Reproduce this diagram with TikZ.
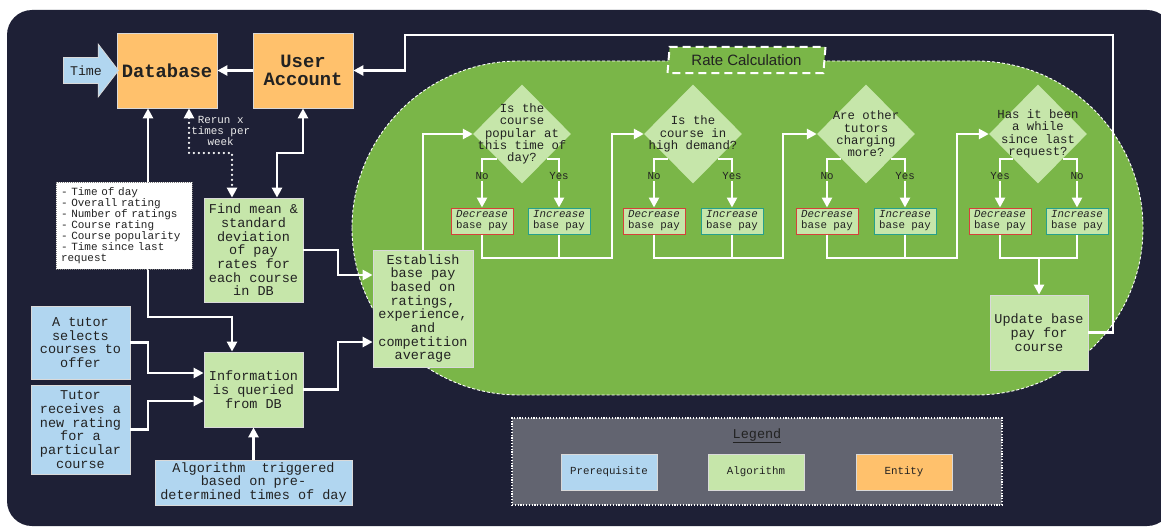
\documentclass[tikz,border=0pt]{standalone}
\usepackage{fontspec}
\setmainfont{Liberation Sans}
\setsansfont{Liberation Sans}
\setmonofont{Liberation Mono}
\usepackage{tikz}
\usetikzlibrary{shapes.geometric, shapes.arrows, arrows.meta}
\definecolor{nightblue}{RGB}{30, 32, 54}
\definecolor{zonegreen}{RGB}{122, 182, 72}
\definecolor{algogreen}{RGB}{198, 230, 170}
\definecolor{prereqblue}{RGB}{177, 214, 240}
\definecolor{entityorange}{RGB}{255, 193, 108}
\definecolor{legendgrey}{RGB}{98, 100, 112}
\definecolor{decred}{RGB}{214, 64, 58}
\definecolor{incteal}{RGB}{38, 160, 140}
\definecolor{inkdark}{RGB}{34, 34, 34}

\begin{document}
\begin{tikzpicture}[
    x=1pt, y=-1pt,
    box/.style={draw=white!85!black, line width=0.8pt, align=center, inner sep=1pt, text=inkdark,
        font=\ttfamily\fontsize{13.5}{13.7}\selectfont},
    algo/.style={box, fill=algogreen},
    prereq/.style={box, fill=prereqblue},
    entity/.style={box, fill=entityorange, minimum width=100pt, minimum height=75pt,
        font=\ttfamily\bfseries\fontsize{18.8}{18}\selectfont},
    choice/.style={diamond, fill=algogreen, minimum width=98pt, minimum height=99pt, inner sep=0pt},
    choicetext/.style={align=center, text=inkdark, inner sep=0pt,
        font=\ttfamily\fontsize{12.3}{12.4}\selectfont},
    paybox/.style={box, fill=algogreen, line width=1pt, minimum width=62pt, minimum height=26pt,
        font=\ttfamily\fontsize{10.8}{11}\selectfont},
    decbox/.style={paybox, draw=decred},
    incbox/.style={paybox, draw=incteal},
    answer/.style={fill=zonegreen, inner sep=1pt, text=inkdark,
        font=\ttfamily\fontsize{10.8}{11}\selectfont},
    keybox/.style={box, minimum width=96pt, minimum height=36pt,
        font=\ttfamily\fontsize{10.8}{11}\selectfont},
    wire/.style={draw=white, line width=2.5pt},
    flow/.style={wire, -{Triangle[length=10pt, width=10pt]}},
    biflow/.style={wire, {Triangle[length=10pt, width=10pt]}-{Triangle[length=10pt, width=10pt]}},
]

    % canvas
    \useasboundingbox (0,0) rectangle (1161,527);
    \fill[white] (0,0) rectangle (1161,527);
    \fill[nightblue, rounded corners=25pt] (7,10) rectangle (1172,526);

    % rate calculation zone
    \draw[fill=zonegreen, draw=white, line width=0.9pt, dash pattern=on 3pt off 2pt,
        rounded corners=167pt] (352,61) rectangle (1143,395);
    \node[trapezium, trapezium left angle=79, trapezium right angle=101, trapezium stretches body,
        fill=zonegreen, draw=white, line width=2pt, dash pattern=on 8pt off 5pt,
        minimum width=158pt, minimum height=26pt, inner sep=0pt, text=inkdark,
        font=\sffamily\fontsize{15}{15}\selectfont] (ratecalc) at (746.5,60) {Rate Calculation};

    % legend
    \node[fill=legendgrey, draw=white, line width=1.2pt, dash pattern=on 1.2pt off 1.6pt,
        minimum width=490pt, minimum height=87pt] (legendbox) at (757,461.5) {};
    \node[text=inkdark, font=\ttfamily\fontsize{13.5}{13.5}\selectfont] (legendtitle) at (757,436) {\underline{Legend}};
    \node[keybox, fill=prereqblue] (keyprereq) at (609,472) {Prerequisite};
    \node[keybox, fill=algogreen] (keyalgo) at (756,472) {Algorithm};
    \node[keybox, fill=entityorange] (keyentity) at (904,472) {Entity};

    % entities
    \node[entity] (db) at (167,70.5) {Database};
    \node[entity] (account) at (303,70.5) {User\\Account};
    \node[single arrow, fill=prereqblue, draw=white!85!black, line width=0.8pt,
        single arrow head extend=13.5pt, single arrow tip angle=105,
        minimum height=55pt, text height=9pt, text depth=0pt, inner ysep=8pt, inner xsep=2pt,
        text=inkdark, font=\ttfamily\fontsize{13.3}{13.3}\selectfont] (time) at (86,70.5) {Time};

    % prerequisites
    \node[prereq, minimum width=99pt, minimum height=73pt] (select) at (80.5,342.5) {A tutor\\selects\\courses to\\offer};
    \node[prereq, minimum width=99pt, minimum height=89pt] (receive) at (80.5,429.5) {Tutor\\receives a\\new rating\\for a\\particular\\course};
    \node[prereq, minimum width=197pt, minimum height=45pt] (trigger) at (253.5,482.5) {Algorithm\ \ triggered\\based on pre-\\determined times of day};

    % algorithm steps
    \node[algo, minimum width=99pt, minimum height=104pt] (stats) at (253.5,250) {Find mean \&\\standard\\deviation\\of pay\\rates for\\each course\\in DB};
    \node[algo, minimum width=99pt, minimum height=75pt] (query) at (253.5,389.5) {Information\\is queried\\from DB};
    \node[algo, minimum width=100pt, minimum height=117pt] (establish) at (423,308.5) {Establish\\base pay\\based on\\ratings,\\experience,\\and\\competition\\average};
    \node[algo, minimum width=98pt, minimum height=75pt] (update) at (1039,332.5) {Update base\\pay for\\course};

    % decisions
    \node[choice, label={[choicetext]center:{Is the\\course\\popular at\\this time of\\day?}}] (popular) at (522,134) {};
    \node[choice, label={[choicetext]center:{Is the\\course in\\high demand?}}] (demand) at (693,134) {};
    \node[choice, label={[choicetext]center:{Are other\\tutors\\charging\\more?}}] (others) at (866,134) {};
    \node[choice, label={[choicetext]center:{Has it been\\a while\\since last\\request?}}] (recent) at (1038,134) {};

    % pay adjustments
    \node[decbox] (popdec) at (482,221) {\textit{Decrease}\\base pay};
    \node[incbox] (popinc) at (559,221) {\textit{Increase}\\base pay};
    \node[decbox] (demdec) at (654,221) {\textit{Decrease}\\base pay};
    \node[incbox] (deminc) at (732,221) {\textit{Increase}\\base pay};
    \node[decbox] (othdec) at (827,221) {\textit{Decrease}\\base pay};
    \node[incbox] (othinc) at (905,221) {\textit{Increase}\\base pay};
    \node[decbox] (recdec) at (1000,221) {\textit{Decrease}\\base pay};
    \node[incbox] (recinc) at (1077,221) {\textit{Increase}\\base pay};

    % connectors
    \draw[flow] (account) -- (db);
    \draw[flow] (update.east) -- (1113,332.5) -- (1113,35) -- (405,35) |- (account.east);
    \draw[biflow] ([xshift=-19pt]db.south) -- (148,317) -| ([xshift=-21.5pt]query.north);
    \draw[biflow, dash pattern=on 0pt off 5pt, line cap=round] ([xshift=22pt]db.south)
        -- node[anchor=west, xshift=0pt, inner sep=1pt, align=center, text=white!92!black,
            font=\ttfamily\fontsize{10.9}{11}\selectfont] {Rerun x\\times per\\week} (189,153)
        -| ([xshift=-21.5pt]stats.north);
    \draw[biflow] (account.south) -- (303,153) -| ([xshift=23.5pt]stats.north);
    \draw[flow] (stats.east) -- (338,250) |- (establish.west |- 0,275);
    \draw[flow] (query.east) -- (338,389.5) |- (establish.west |- 0,342);
    \draw[flow] (select.east) -- (148,342.5) |- (query.west |- 0,373);
    \draw[flow] (receive.east) -- (148,429.5) |- (query.west |- 0,401);
    \draw[flow] (trigger) -- (query);
    \draw[flow] (establish.north) |- (popular.west);

    % decision branches
    \draw[flow] (popular.south west) -| node[answer, pos=0.68] {No} (popdec.north);
    \draw[flow] (popular.south east) -| node[answer, pos=0.68] {Yes} (popinc.north);
    \draw[flow] (demand.south west) -| node[answer, pos=0.68] {No} (demdec.north);
    \draw[flow] (demand.south east) -| node[answer, pos=0.68] {Yes} (deminc.north);
    \draw[flow] (others.south west) -| node[answer, pos=0.68] {No} (othdec.north);
    \draw[flow] (others.south east) -| node[answer, pos=0.68] {Yes} (othinc.north);
    \draw[flow] (recent.south west) -| node[answer, pos=0.68] {Yes} (recdec.north);
    \draw[flow] (recent.south east) -| node[answer, pos=0.68] {No} (recinc.north);

    % merging back
    \draw[wire] (popinc.south) -- (popinc.south |- 0,258);
    \draw[flow] (popdec.south) |- (612,258) |- (demand.west);
    \draw[wire] (deminc.south) -- (deminc.south |- 0,258);
    \draw[flow] (demdec.south) |- (783,258) |- (others.west);
    \draw[wire] (othinc.south) -- (othinc.south |- 0,258);
    \draw[flow] (othdec.south) |- (957,258) |- (recent.west);
    \draw[wire] (recdec.south) |- (recinc.south |- 0,258) -- (recinc.south);
    \draw[flow] (update.north |- 0,258) -- (update.north);

    % fields sent with the query
    \node[fill=white, draw=gray, line width=1pt, dash pattern=on 1pt off 1pt, align=left,
        text width=126pt, inner xsep=5pt, minimum height=87pt, text=inkdark,
        font=\ttfamily\fontsize{11}{11}\selectfont] (fields) at (124,225.5)
        {- Time of day\\- Overall rating\\- Number of ratings\\- Course rating\\- Course popularity\\- Time since last\\request};

\end{tikzpicture}
\end{document}
